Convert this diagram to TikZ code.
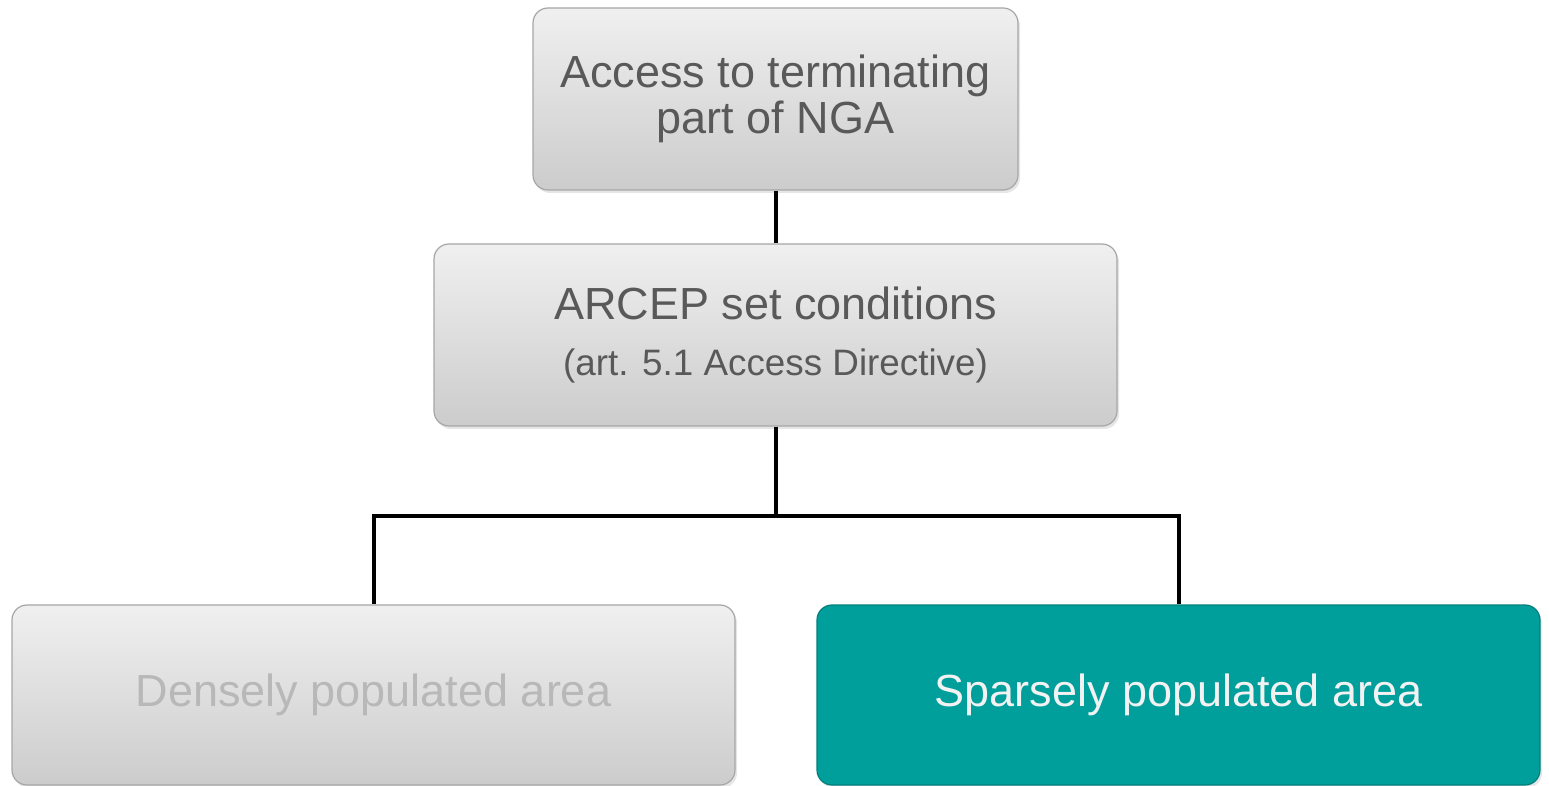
\documentclass[tikz,border=0pt]{standalone}
\usepackage{fontspec}
\setmainfont{Liberation Sans}
\usetikzlibrary{shadows}
\definecolor{boxtext}{HTML}{595959}
\definecolor{boxedge}{HTML}{A6A6A6}
\definecolor{teal}{HTML}{009F9C}

\begin{document}
\begin{tikzpicture}[x=0.5pt,y=-0.5pt,line width=2pt,
                main node/.style={rectangle,rounded corners=7.5pt,draw=boxedge,line width=0.6pt,
                  top color=white!94!black,bottom color=white!80!black,
                  drop shadow={opacity=0.2,shadow xshift=1pt,shadow yshift=-1.5pt},
                  text=boxtext,align=center,inner sep=0pt,
                  font=\fontsize{22.5}{23}\selectfont},
                off node/.style={main node,text=white!72!black},
                on node/.style={main node,top color=teal,bottom color=teal,draw=teal!80!black,
                  text=white!95!black}]
	\useasboundingbox (0,0) rectangle (1549,786);

	\node[main node,minimum width=242.5pt,minimum height=91pt] (1) at (775.5,99)
		{Access to terminating\\part of NGA};
	\node[main node,minimum width=341.5pt,minimum height=91pt] (2) at (775.5,335)
		{ARCEP set conditions\\[5pt]{\fontsize{18.4}{20}\selectfont (art. 5.1 Access Directive)}};
	\node[off node,minimum width=361.5pt,minimum height=90pt] (3) at (373.5,695)
		{Densely populated area};
	\node[on node,minimum width=361.5pt,minimum height=90pt] (4) at (1178.5,695)
		{Sparsely populated area};

	\coordinate (split) at (775.5,516);

	\draw (1) -- (2);
	\draw (2) -- (split);
	\draw (split) -| (3);
	\draw (split) -| (4);
\end{tikzpicture}
\end{document}
